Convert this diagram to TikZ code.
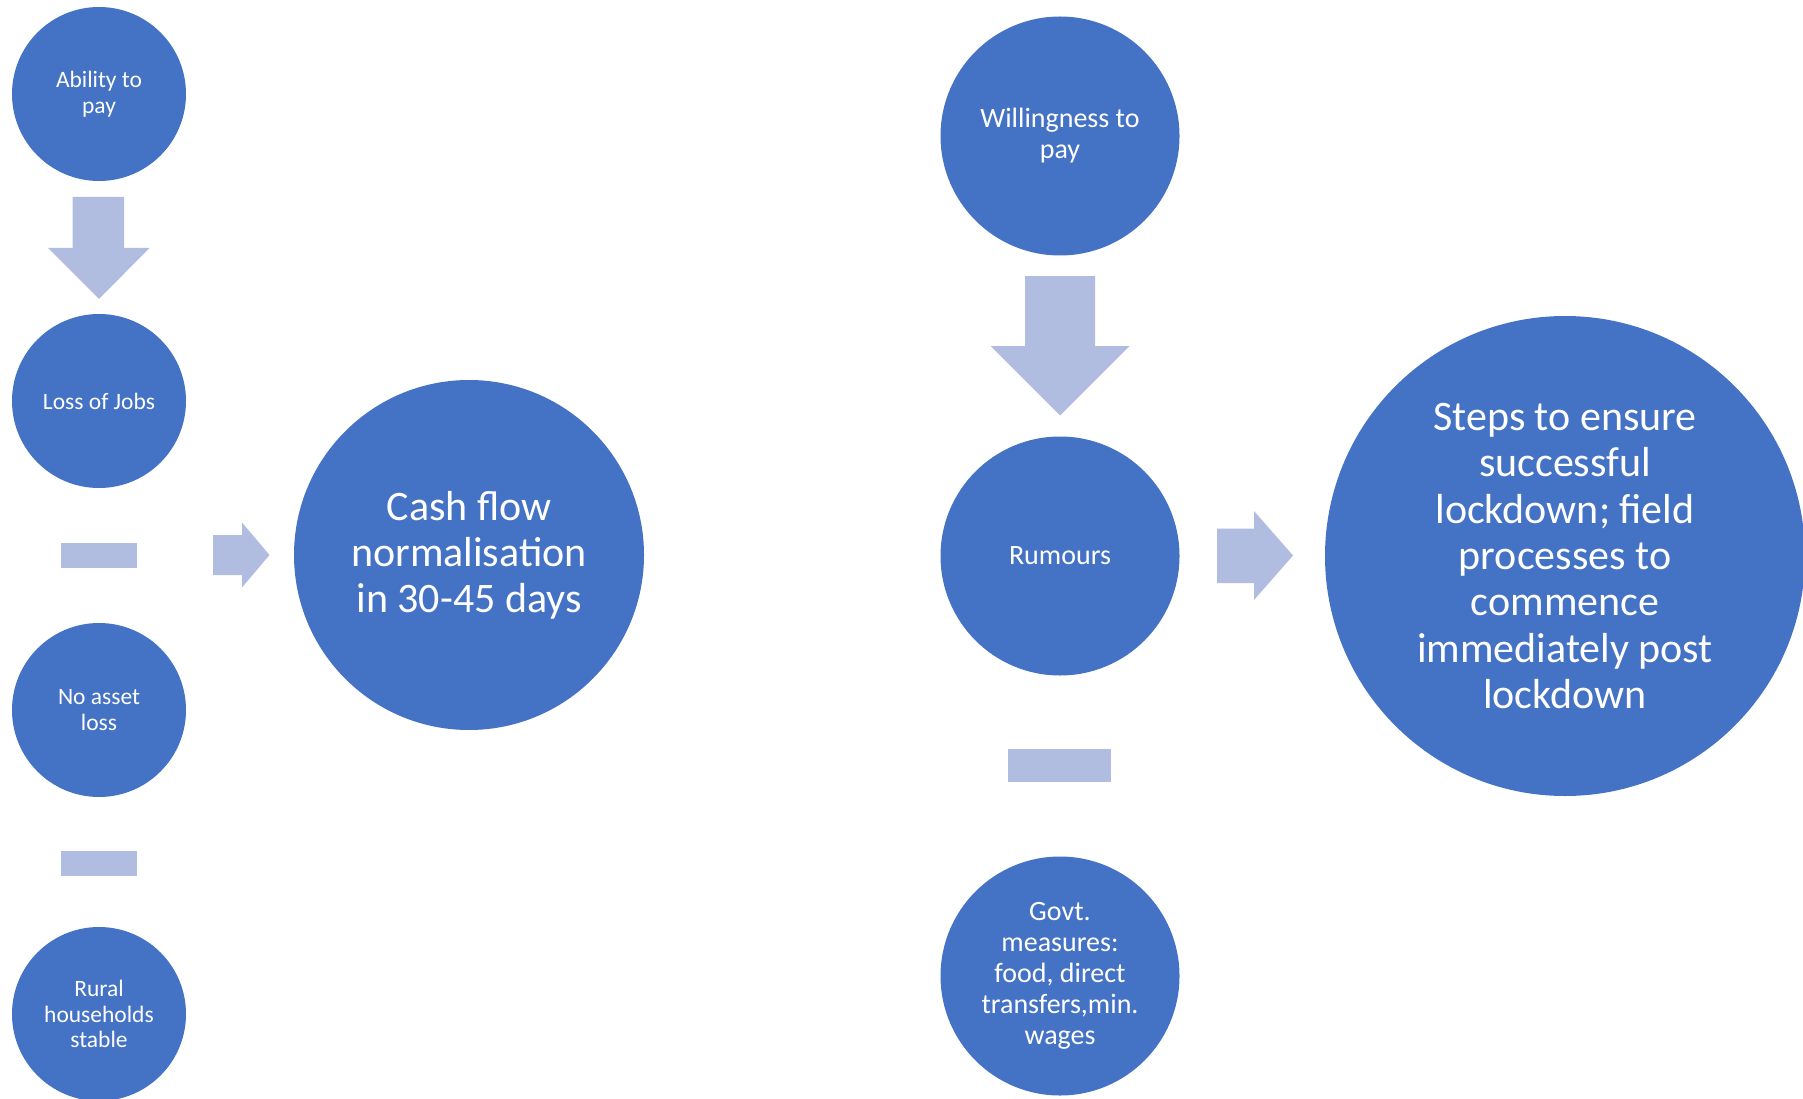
\documentclass[tikz,border=0pt]{standalone}
\usepackage{fontspec}
\setmainfont{Carlito}
\definecolor{cblue}{HTML}{4472C4}
\definecolor{carrow}{HTML}{B0BDE0}
\begin{document}
\begin{tikzpicture}[x=1pt,y=-1pt,
  bub/.style={circle,fill=cblue,draw=none,inner sep=0pt,text=white,align=center},
  blk/.style={fill=carrow,draw=none}]
\useasboundingbox (0,0) rectangle (1803,1099);
\begin{scope}
\clip (0,0) rectangle (1803,1099);
% left group
\node[bub,minimum size=174pt,font=\fontsize{23.5}{26.5}\selectfont] (ability) at (99,94) {Ability to\\pay};
\node[bub,minimum size=174pt,font=\fontsize{23.5}{26.5}\selectfont] (jobs) at (99,401) {Loss of Jobs};
\node[bub,minimum size=174pt,font=\fontsize{23.5}{26.5}\selectfont] (asset) at (99,710) {No asset\\loss};
\node[bub,minimum size=174pt,font=\fontsize{23.5}{25.5}\selectfont] (rural) at (99,1014) {Rural\\households\\stable};
\node[bub,minimum size=350pt,font=\fontsize{42}{46}\selectfont] (cash) at (469,555) {Cash flow\\normalisation\\in 30-45 days};
% right group
\node[bub,minimum size=239pt,font=\fontsize{28}{31}\selectfont] (will) at (1060,136) {Willingness to\\pay};
\node[bub,minimum size=239pt,font=\fontsize{28}{31}\selectfont] (rum) at (1060,556) {Rumours};
\node[bub,minimum size=239pt,font=\fontsize{28}{31}\selectfont] (govt) at (1060,976) {Govt.\\measures:\\food, direct\\transfers,min.\\wages};
\node[bub,minimum size=480pt,font=\fontsize{42}{46.3}\selectfont] (steps) at (1565,556) {Steps to ensure\\successful\\lockdown; field\\processes to\\commence\\immediately post\\lockdown};
% left arrows and bars
\fill[blk] (72.5,197) -- (124,197) -- (124,248) -- (149.5,248) -- (99,299) -- (48,248) -- (72.5,248) -- cycle;
\fill[blk] (61,543) rectangle (137,568);
\fill[blk] (61,851) rectangle (137,876);
\fill[blk] (213,535) -- (242,535) -- (242,522.5) -- (269.5,555) -- (242,587.5) -- (242,575) -- (213,575) -- cycle;
% right arrows and bars
\fill[blk] (1025,276) -- (1095,276) -- (1095,346) -- (1129.5,346) -- (1060,415.5) -- (990.5,346) -- (1025,346) -- cycle;
\fill[blk] (1008,749) rectangle (1111,782);
\fill[blk] (1217,528.5) -- (1254,528.5) -- (1254,511) -- (1293,555.5) -- (1254,600) -- (1254,583) -- (1217,583) -- cycle;
\end{scope}
\end{tikzpicture}
\end{document}
